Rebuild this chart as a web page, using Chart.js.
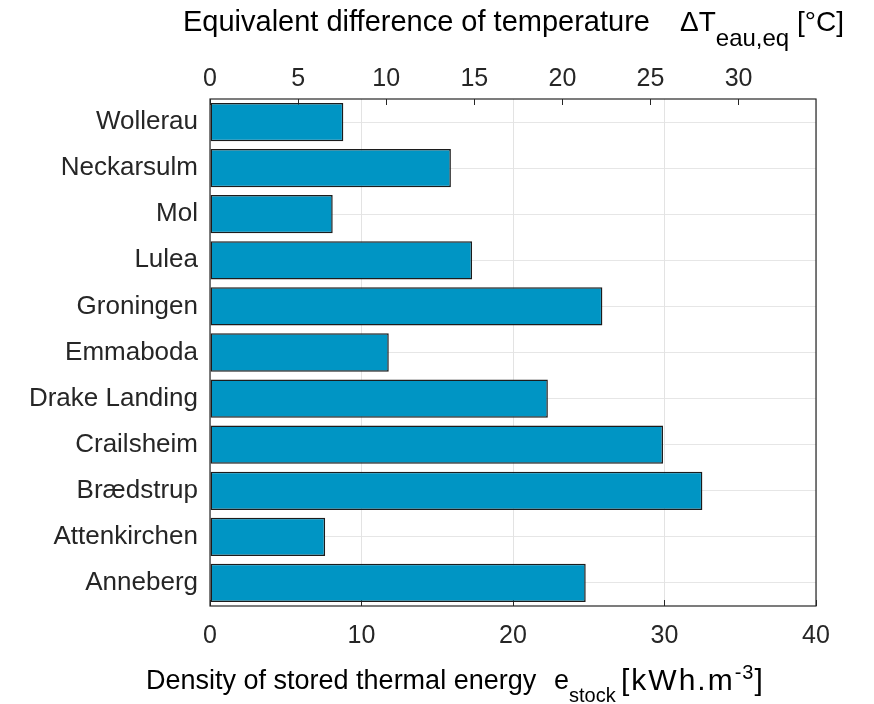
<!DOCTYPE html>
<html lang="en">
<head>
  <meta charset="UTF-8">
  <title>Stored thermal energy density</title>
  <script src="https://cdn.jsdelivr.net/npm/chart.js"></script>
  <style>
    body {
      margin: 0;
      background: #ffffff;
      font-family: "Liberation Sans", Arial, sans-serif;
    }
    .wrap {
      position: relative;
      width: 874px;
      height: 704px;
    }
    .ttl {
      position: absolute;
      white-space: pre;
      color: #000000;
      line-height: 1;
    }
    .lo { position: relative; }
  </style>
</head>
<body>
  <div class="wrap">
    <canvas id="storageChart"></canvas>
    <!-- axis titles (need sub/superscripts) -->
    <div class="ttl" style="left:183px; top:7px; font-size:29px;">Equivalent difference of temperature</div>
    <div class="ttl" style="left:680px; top:8px; font-size:28px;">&Delta;T<span class="lo" style="top:15px; font-size:24px;">eau,eq</span> [°C]</div>
    <div class="ttl" style="left:146px; top:667px; font-size:27px;">Density of stored thermal energy</div>
    <div class="ttl" style="left:554px; top:667px; font-size:27px;">e<span class="lo" style="top:13px; font-size:20px;">stock</span></div>
    <div class="ttl" style="left:621px; top:665px; font-size:30px; letter-spacing:2px;">[kWh.m<span class="lo" style="top:-11px; font-size:20px; letter-spacing:1px;">-3</span>]</div>
  </div>

  <script>
    // sites, top to bottom
    const sites = ["Wollerau", "Neckarsulm", "Mol", "Lulea", "Groningen", "Emmaboda",
                   "Drake Landing", "Crailsheim", "Brædstrup", "Attenkirchen", "Anneberg"];
    // e_stock [kWh/m3]
    const energyDensity = [8.8, 15.9, 8.1, 17.3, 25.9, 11.8, 22.3, 29.9, 32.5, 7.6, 24.8];

    const densityTicks = [0, 10, 20, 30, 40];
    const tempTicks = [0, 5, 10, 15, 20, 25, 30];
    const kwhPerKelvin = 1.163; // water, kWh per m3 per K

    const xMax = densityTicks[densityTicks.length - 1];
    const tickFont = "'Liberation Sans', Arial, sans-serif";

    // box around the plot area
    const framePlugin = {
      id: "frame",
      afterDatasetsDraw(chart) {
        const a = chart.chartArea;
        const ctx = chart.ctx;
        ctx.save();
        ctx.strokeStyle = "#262626";
        ctx.lineWidth = 1.2;
        ctx.strokeRect(a.left, a.top, a.right - a.left, a.bottom - a.top);
        ctx.restore();
      }
    };

    const ctx = document.getElementById("storageChart").getContext("2d");
    new Chart(ctx, {
      type: "bar",
      data: {
        labels: sites,
        datasets: [{
          data: energyDensity,
          backgroundColor: "#0095c4",
          borderColor: "#1c1c1c",
          borderWidth: 1.5,
          borderSkipped: false,
          barPercentage: 0.83,
          categoryPercentage: 1,
          xAxisID: "x",
          yAxisID: "y"
        }]
      },
      options: {
        indexAxis: "y",
        responsive: true,
        maintainAspectRatio: false,
        animation: false,
        layout: { padding: { left: 0, right: 58, top: 0, bottom: 0 } },
        plugins: {
          legend: { display: false },
          tooltip: { enabled: false }
        },
        scales: {
          y: {
            type: "category",
            position: "left",
            grid: { offset: false, color: "#e6e6e6", drawTicks: false },
            border: { display: false },
            ticks: {
              color: "#262626",
              padding: 12,
              font: { family: tickFont, size: 26 }
            },
            afterFit: s => { s.width = 210; }
          },
          x: {
            type: "linear",
            position: "bottom",
            min: 0,
            max: xMax,
            grid: { color: "#e3e3e3", tickColor: "#262626", tickLength: -6 },
            border: { display: false },
            afterBuildTicks: s => { s.ticks = densityTicks.map(v => ({ value: v })); },
            ticks: {
              color: "#262626",
              padding: 21,
              font: { family: tickFont, size: 25 }
            },
            afterFit: s => { s.height = 98; }
          },
          x2: {
            type: "linear",
            position: "top",
            min: 0,
            max: xMax / kwhPerKelvin,
            grid: { drawOnChartArea: false, tickColor: "#262626", tickLength: -6 },
            border: { display: false },
            afterBuildTicks: s => { s.ticks = tempTicks.map(v => ({ value: v })); },
            ticks: {
              color: "#262626",
              padding: 11,
              font: { family: tickFont, size: 25 }
            },
            afterFit: s => { s.height = 99; }
          }
        }
      },
      plugins: [framePlugin]
    });
  </script>
</body>
</html>
